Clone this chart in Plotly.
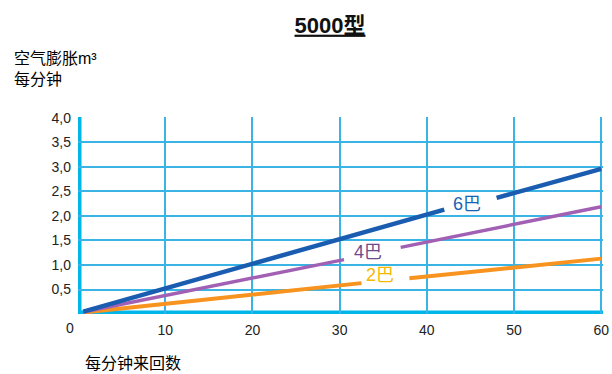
import plotly.graph_objects as go

# Data; None marks the gap where the label sits
x_6bar = [0.6, 42.0, None, 48.0, 60.0]
y_6bar = [0.05, 2.13, None, 2.37, 2.96]
x_4bar = [0.6, 30.5, None, 37.0, 60.0]
y_4bar = [0.04, 1.11, None, 1.36, 2.19]
x_2bar = [0.6, 32.5, None, 38.0, 60.0]
y_2bar = [0.03, 0.63, None, 0.73, 1.13]

x_ticks = [10, 20, 30, 40, 50, 60]
y_ticks = [0.5, 1.0, 1.5, 2.0, 2.5, 3.0, 3.5, 4.0]
y_ticktext = ["0,5", "1,0", "1,5", "2,0", "2,5", "3,0", "3,5", "4,0"]

labels = ["6巴", "4巴", "2巴"]
label_x = [44.6, 33.2, 34.6]
label_y = [2.25, 1.26, 0.80]
label_colors = ["#1565b5", "#6b4a8e", "#f5b800"]

GRID = "#3ab4e4"
AXIS = "#00b5e8"
FONT = "Liberation Sans, Noto Sans CJK SC, sans-serif"

L, R, T, B = 78, 9, 117, 60
W, H = 612, 374
PW, PH = W - L - R, H - T - B


def px(x):
    return (x - L) / PW


def py(y):
    return (H - B - y) / PH


fig = go.Figure()
fig.add_trace(go.Scatter(x=x_2bar, y=y_2bar, mode="lines",
                         line=dict(color="#f7931e", width=4), showlegend=False))
fig.add_trace(go.Scatter(x=x_4bar, y=y_4bar, mode="lines",
                         line=dict(color="#a160b4", width=3.5), showlegend=False))
fig.add_trace(go.Scatter(x=x_6bar, y=y_6bar, mode="lines",
                         line=dict(color="#1a5cb0", width=4.5), showlegend=False))

for t, lx, ly, c in zip(labels, label_x, label_y, label_colors):
    fig.add_annotation(x=lx, y=ly, text=t, showarrow=False,
                       font=dict(size=18, color=c, family=FONT))

# thick left and bottom axes
fig.add_shape(type="line", x0=0, x1=0, y0=-0.03, y1=4.02, xref="x", yref="y",
              line=dict(color=AXIS, width=7), layer="below")
fig.add_shape(type="line", x0=0, x1=60.2, y0=0, y1=0, xref="x", yref="y",
              line=dict(color=AXIS, width=7), layer="below")

fig.add_annotation(x=px(70), y=py(328), xref="paper", yref="paper", text="0",
                   showarrow=False, xanchor="center", yanchor="middle",
                   font=dict(size=14, color="#222", family=FONT))

fig.update_layout(
    width=W, height=H,
    margin=dict(l=L, r=R, t=T, b=B, autoexpand=False),
    paper_bgcolor="white", plot_bgcolor="white",
    font=dict(family=FONT, color="#222"),
    title=dict(text="<b><u>5000型</u></b>", x=330 / W, xanchor="center",
               y=1 - 25 / H, yanchor="middle", font=dict(size=22, color="#111", family=FONT)),
    xaxis=dict(range=[0, 60.2], tickvals=x_ticks, ticktext=[str(v) for v in x_ticks],
               showgrid=True, gridcolor=GRID, gridwidth=1.5, zeroline=False,
               showline=False, ticks="", tickfont=dict(size=14, color="#222"),
               ticklabelstandoff=6, automargin=False),
    yaxis=dict(range=[0, 4.02], tickvals=y_ticks, ticktext=y_ticktext,
               showgrid=True, gridcolor=GRID, gridwidth=1.5, zeroline=False,
               showline=False, ticks="", tickfont=dict(size=14, color="#222"),
               ticklabelstandoff=6, automargin=False),
)

fig.add_annotation(x=px(12), y=py(48), xref="paper", yref="paper",
                   text="空气膨胀m³<br>每分钟", showarrow=False, align="left",
                   xanchor="left", yanchor="top",
                   font=dict(size=16, color="#000", family=FONT))
fig.add_annotation(x=px(83), y=py(353), xref="paper", yref="paper",
                   text="每分钟来回数", showarrow=False, align="left",
                   xanchor="left", yanchor="top",
                   font=dict(size=16, color="#000", family=FONT))

fig.write_html("out.html", config={"displayModeBar": False},
               post_script="document.body.style.margin='0';")
